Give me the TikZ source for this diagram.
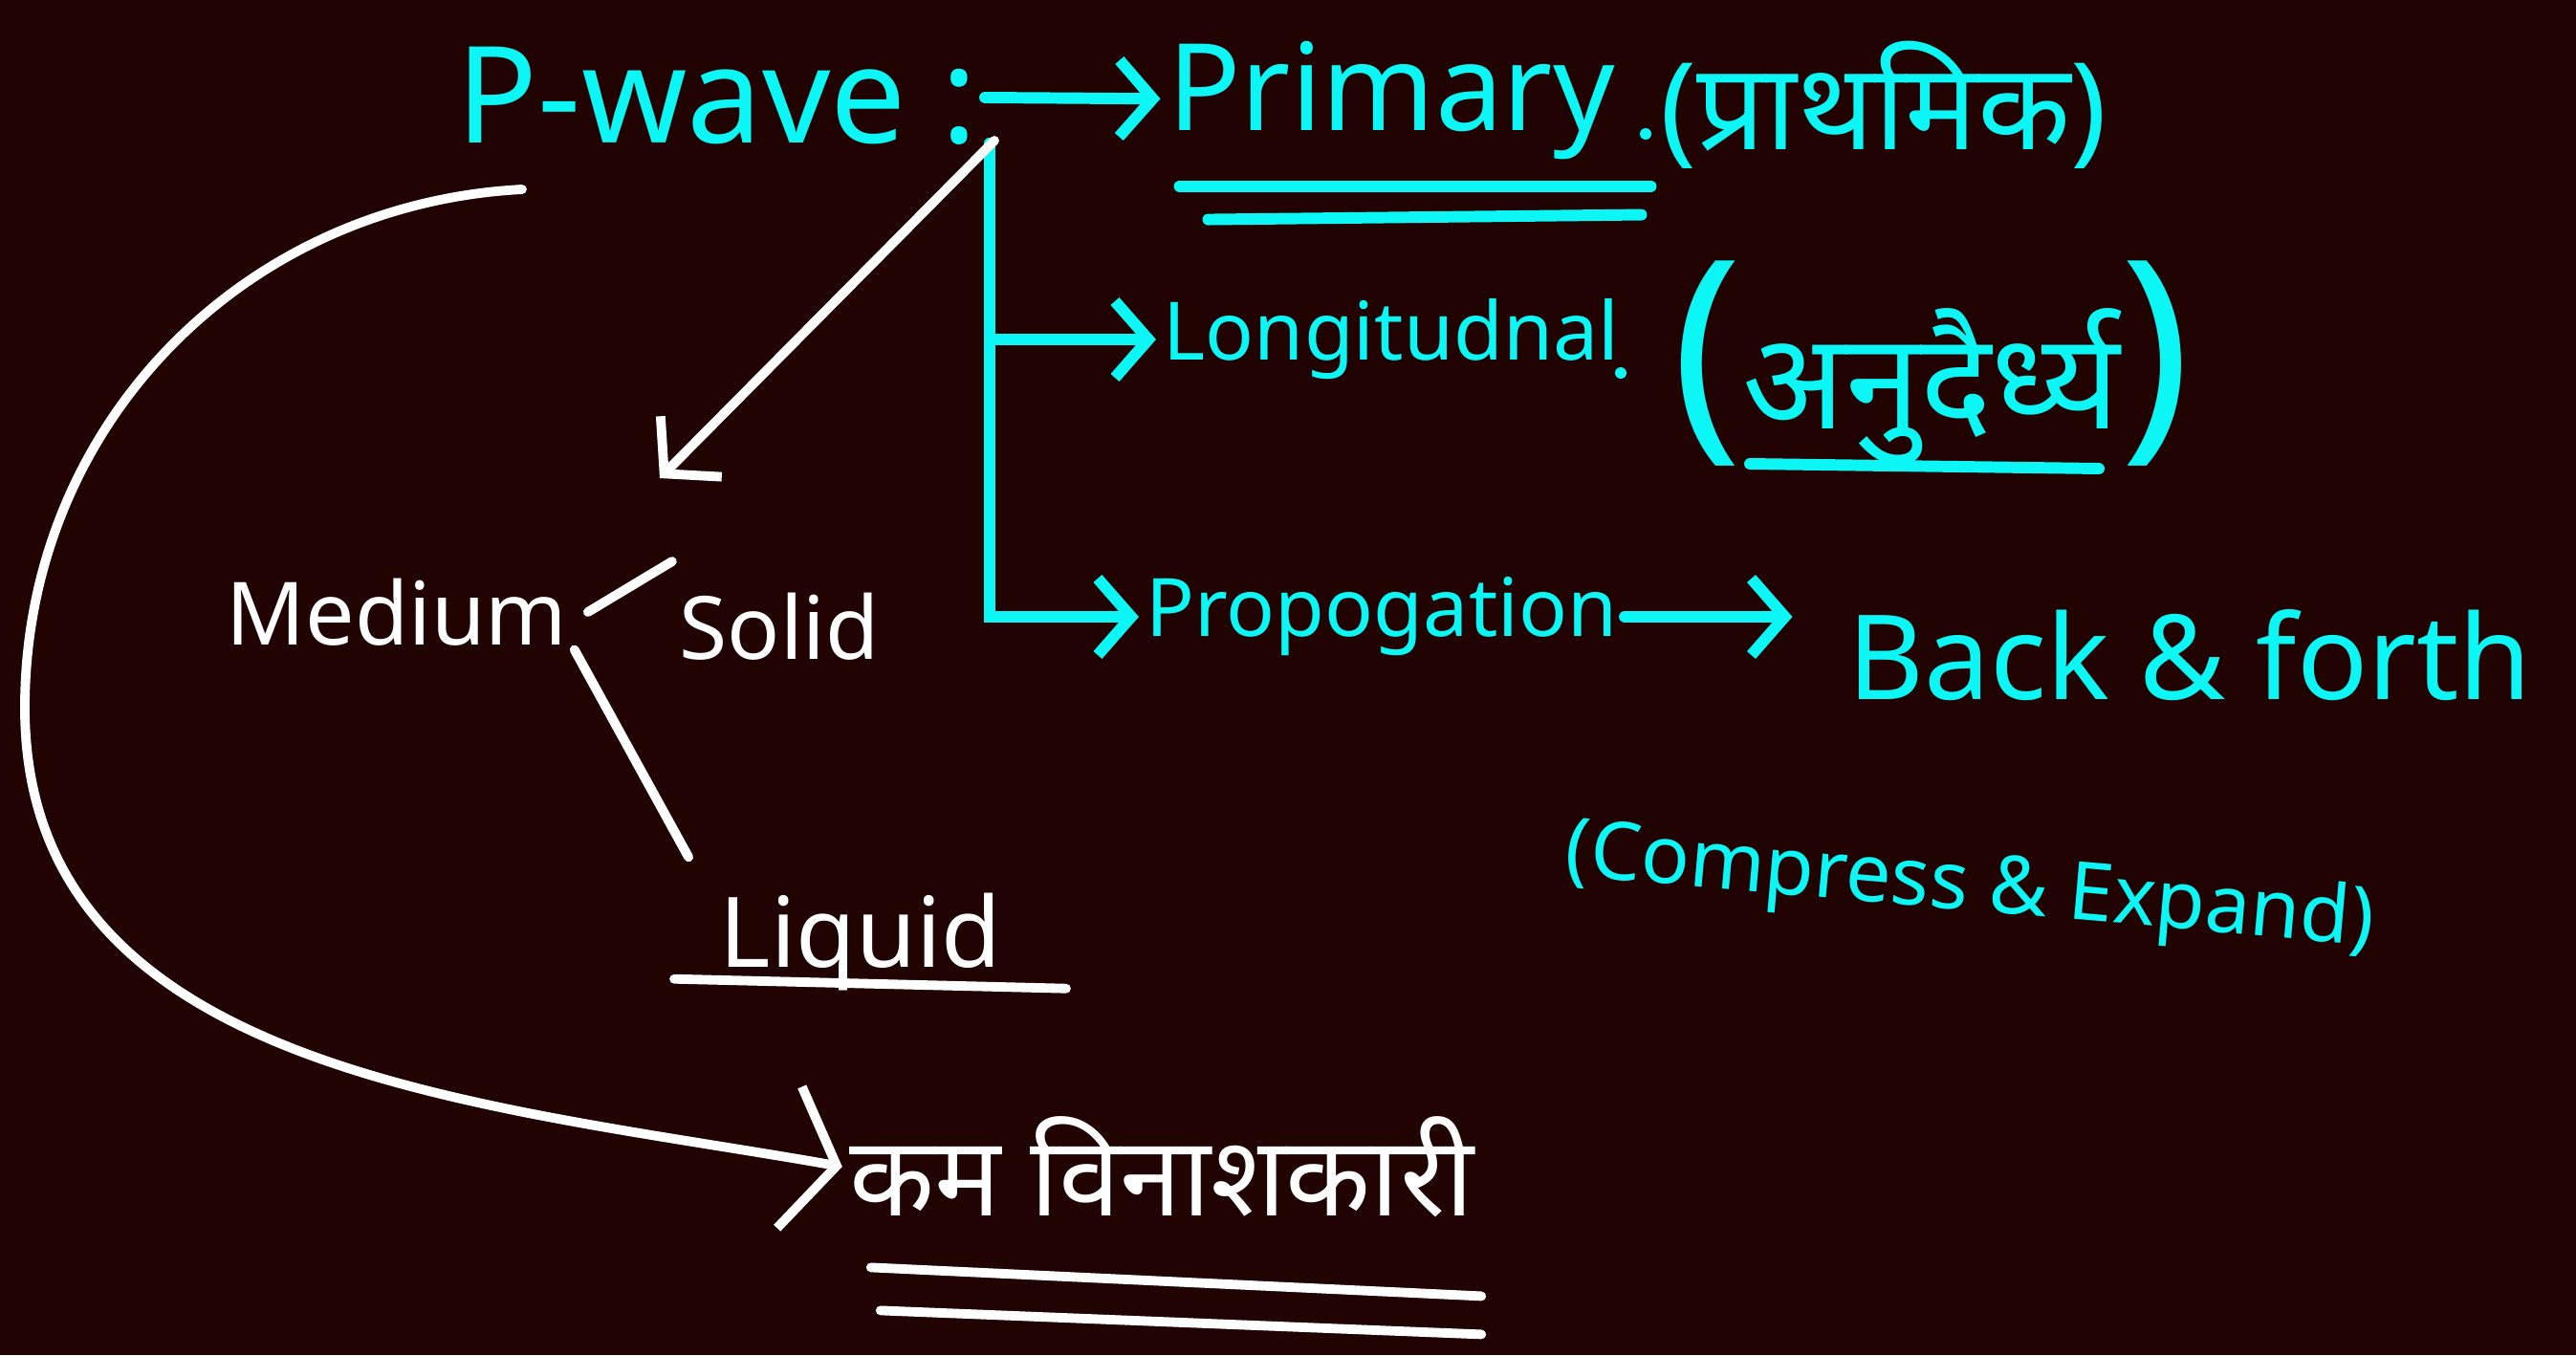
\documentclass[tikz,border=0pt]{standalone}
\usepackage{fontspec}
\setmainfont{Noto Sans}
\newfontfamily\hindi[Script=Devanagari]{Noto Sans}
\usetikzlibrary{arrows.meta,calc}
\definecolor{board}{HTML}{210302}
\definecolor{chalkcyan}{HTML}{0DF6F6}
\newcommand{\fs}[1]{\fontsize{#1}{#1}\selectfont}
\newcommand{\bigparen}[1]{{\fs{70}#1}}

\tikzset{
  cy/.style={text=chalkcyan, inner sep=2pt},
  wh/.style={text=white, inner sep=2pt},
  cyline/.style={draw=chalkcyan, line width=3.4pt, line cap=round},
  whline/.style={draw=white, line width=2.8pt, line cap=round},
  cyarr/.style={cyline, -{Straight Barb[length=3.5mm,width=8mm]}},
  wharr/.style={whline, -{Straight Barb[length=4mm,width=9mm]}},
}

\begin{document}
\begin{tikzpicture}
    \fill[board] (0,0) rectangle (26.94,-14.17);
    % cyan side
    \node[cy] (PW) at (7.5,-1.0) {\fs{40}P-wave :};
    \node[cy] (Pri) at (14.55,-1.05) {\fs{36}Primary};
    \node[cy] (PriH) at (19.7,-1.1) {\hindi\fs{36}(प्राथमिक)};
    \node[cy] (Lon) at (14.55,-3.55) {\fs{24}Longitudnal};
    \node[cy] (LonH) at (20.2,-3.8) {\bigparen{(}\hindi\fs{40}अनुदैर्ध्य\bigparen{)}};
    \node[cy] (Pro) at (14.45,-6.45) {\fs{24}Propogation};
    \node[cy] (BF) at (22.9,-6.85) {\fs{35}Back \& forth};
    \node[cy, rotate=-5] (CE) at (20.6,-9.3) {\fs{24}(Compress \& Expand)};
    % white side
    \node[wh] (Med) at (4.15,-6.4) {\fs{26}Medium};
    \node[wh] (Sol) at (8.15,-6.55) {\fs{26}Solid};
    \node[wh] (Liq) at (9.0,-9.85) {\fs{29}Liquid};
    \node[wh] (KV) at (12.15,-12.2) {\hindi\fs{33}कम विनाशकारी};
    \coordinate (Col) at (10.4,-1.47);
    \coordinate (Tr) at (10.35,-1.5);
    \coordinate (Hit) at (6.9,-5.0);
    \coordinate (Cs) at (5.46,-1.98);
    \coordinate (Cl) at (0.26,-7.4);
    % stray dots
    \fill[chalkcyan] (17.21,-1.4) circle (0.06);
    \fill[chalkcyan] (16.95,-3.9) circle (0.06);
    % connectors
    \draw[cyarr] (PW) -- (Pri);
    \draw[cyarr] (Tr) |- (Lon.west);
    \draw[cyarr] (Tr) |- (Pro.west);
    \draw[cyarr, shorten >=0.5cm] (Pro) -- (Pro -| BF.west);
    \draw[wharr] (Col) -- (Hit);
    \path[whline] ([xshift=4pt]Med.east) edge ([yshift=0.25cm]Sol.north west)
                  (Med.-12) edge ([shift={(-0.25,0.3)}]Liq.north west);
    \draw[whline, -{Straight Barb[length=5mm,width=15mm]}] (Cs) to[out=183,in=90] (Cl) to[out=-90,in=170] (KV.west);
    % underlines
    \draw[cyline] ([xshift=0.2cm,yshift=-0.2cm]Pri.south west) -- ([xshift=0.3cm,yshift=-0.2cm]Pri.south east);
    \draw[cyline] ([xshift=0.5cm,yshift=-0.55cm]Pri.south west) -- ([xshift=0.2cm,yshift=-0.5cm]Pri.south east);
    \draw[cyline] ([xshift=-1.9cm,yshift=0.1cm]LonH.south) -- ([xshift=1.75cm,yshift=0.05cm]LonH.south);
    \draw[whline] ([xshift=-0.4cm,yshift=0.2cm]Liq.south west) -- ([xshift=0.6cm,yshift=0.1cm]Liq.south east);
    \draw[whline] ([xshift=0.3cm,yshift=-0.45cm]KV.south west) -- ([yshift=-0.75cm]KV.south east);
    \draw[whline] ([xshift=0.4cm,yshift=-0.9cm]KV.south west) -- ([yshift=-1.15cm]KV.south east);
\end{tikzpicture}
\end{document}
